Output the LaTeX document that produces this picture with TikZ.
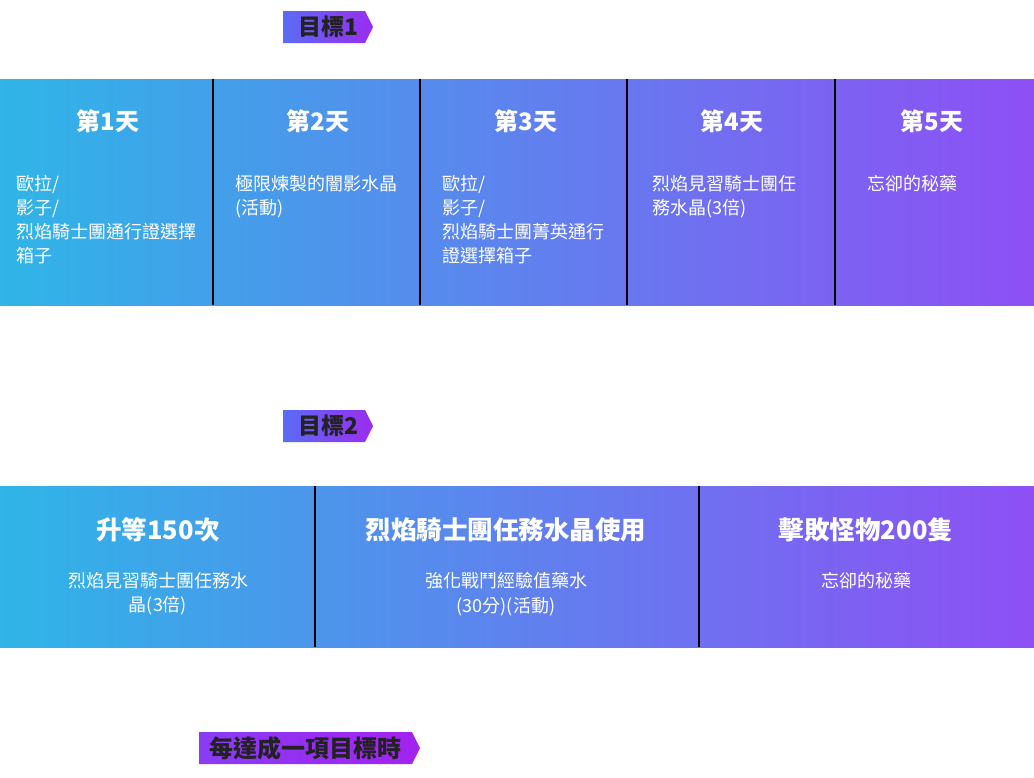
\documentclass[tikz,border=0pt]{standalone}
\usepackage{fontspec}
\setmainfont{Noto Sans CJK TC}
\usepackage{xcolor}

\definecolor{bandL}{HTML}{2FB5E7}
\definecolor{bandR}{HTML}{8E4FF5}
\definecolor{tagL}{HTML}{5A6CF6}
\definecolor{tagR}{HTML}{9B2CF0}
\definecolor{tagP}{HTML}{8A3CF5}
\definecolor{tagQ}{HTML}{A322F0}
\definecolor{tagtext}{HTML}{222222}

\begin{document}
\begin{tikzpicture}[x=1pt,y=-1pt,
  dayhead/.style={text=white,font=\fontsize{24}{28}\selectfont\bfseries,inner sep=0},
  daytext/.style={text=white,font=\fontsize{18}{24}\selectfont,inner sep=0,anchor=north west,align=left},
  goalhead/.style={text=white,font=\fontsize{25.5}{30}\selectfont\bfseries,inner sep=0},
  goaltext/.style={text=white,font=\fontsize{18}{24.5}\selectfont,inner sep=0,anchor=north,align=center},
  tagtxt/.style={text=tagtext,font=\fontsize{23}{28}\selectfont\bfseries,inner sep=0},
  divider/.style={line width=1.5pt,black}]
\useasboundingbox (0,0) rectangle (1034,777);

% goal 1 tag
\shade[left color=tagL,right color=tagR] (283,11) -- (365,11) -- (373,27) -- (365,43) -- (283,43) -- cycle;
\node[tagtxt] (tag1) at (329,27) {目標1};

% five days band
\shade[left color=bandL,right color=bandR] (0,79) rectangle (1034,305);
\draw[divider] (213,79) -- (213,305);
\draw[divider] (420,79) -- (420,305);
\draw[divider] (627,79) -- (627,305);
\draw[divider] (835,79) -- (835,305);
\node[dayhead] (day1) at (108,121) {第1天};
\node[dayhead] (day2) at (318,121) {第2天};
\node[dayhead] (day3) at (526,121) {第3天};
\node[dayhead] (day4) at (732,121) {第4天};
\node[dayhead] (day5) at (932,121) {第5天};
\node[daytext] (day1txt) at (16,175) {歐拉/\\影子/\\烈焰騎士團通行證選擇\\箱子};
\node[daytext] (day2txt) at (235,175) {極限煉製的闇影水晶\\(活動)};
\node[daytext] (day3txt) at (442,175) {歐拉/\\影子/\\烈焰騎士團菁英通行\\證選擇箱子};
\node[daytext] (day4txt) at (652,175) {烈焰見習騎士團任\\務水晶(3倍)};
\node[daytext] (day5txt) at (867,175) {忘卻的秘藥};

% goal 2 tag
\shade[left color=tagL,right color=tagR] (283,410) -- (365,410) -- (373,426) -- (365,442) -- (283,442) -- cycle;
\node[tagtxt] (tag2) at (329,426) {目標2};

% three goals band
\shade[left color=bandL,right color=bandR] (0,486) rectangle (1034,647);
\draw[divider] (315,486) -- (315,647);
\draw[divider] (699,486) -- (699,647);
\node[goalhead] (goal1) at (158,530) {升等150次};
\node[goalhead] (goal2) at (506,530) {烈焰騎士團任務水晶使用};
\node[goalhead] (goal3) at (866,530) {擊敗怪物200隻};
\node[goaltext] (goal1txt) at (158,572) {烈焰見習騎士團任務水\\晶(3倍)};
\node[goaltext] (goal2txt) at (506,572) {強化戰鬥經驗值藥水\\(30分)(活動)};
\node[goaltext] (goal3txt) at (866,572) {忘卻的秘藥};

% bottom tag
\shade[left color=tagP,right color=tagQ] (199,732) -- (412,732) -- (420,748) -- (412,764) -- (199,764) -- cycle;
\node[tagtxt,font=\fontsize{24}{28}\selectfont\bfseries] (tag3) at (305,748) {每達成一項目標時};
\end{tikzpicture}
\end{document}
